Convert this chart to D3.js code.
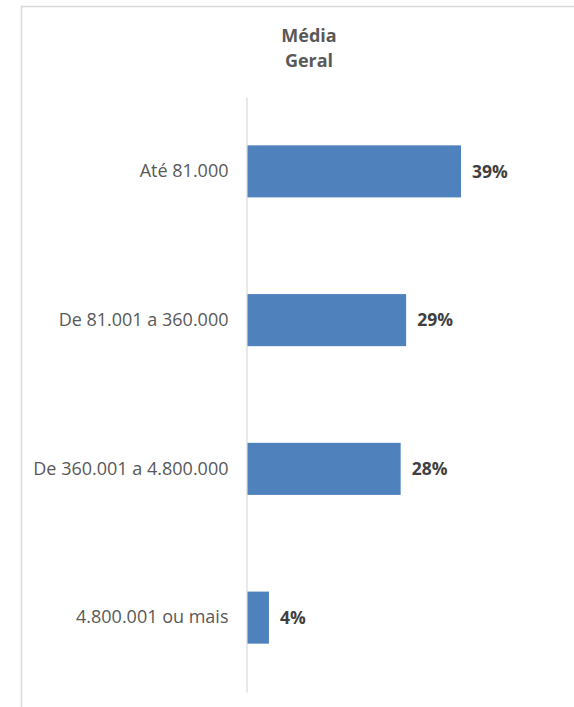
<!DOCTYPE html>
<html><head><meta charset="utf-8">
<script src="https://cdn.jsdelivr.net/npm/d3@7"></script>
<style>body{margin:0;background:#fff;}svg{display:block;}</style>
</head><body>
<script>
const categories = ["Até 81.000", "De 81.001 a 360.000", "De 360.001 a 4.800.000", "4.800.001 ou mais"];
const values = [39, 29, 28, 4];
const valueLabels = ["39%", "29%", "28%", "4%"];
const titleLines = ["Média", "Geral"];

const W = 574, H = 707;
const svg = d3.select("body").append("svg").attr("width", W).attr("height", H);
const font = "'Open Sans', 'Noto Sans', sans-serif";

// chart border
svg.append("path").attr("d", `M21.5,${H} V6.5 H${W}`).attr("fill","none").attr("stroke","#d9d9d9").attr("stroke-width",1.5);

const x0 = 247;
const x = d3.scaleLinear().domain([0, 39]).range([x0, 461]);
const y = d3.scaleBand().domain(categories).range([97, 692]).paddingInner(0.65).paddingOuter(0.325);

svg.append("g").selectAll("text").data(titleLines).join("text")
  .attr("x", 309).attr("y", (d,i)=>42 + i*25)
  .attr("text-anchor","middle").attr("font-family",font).attr("font-weight","bold")
  .attr("font-size",18).attr("fill","#595959").text(d=>d);

svg.selectAll("rect.bar").data(values).join("rect").attr("class","bar")
  .attr("x", x(0)).attr("y",(d,i)=>y(categories[i]))
  .attr("width", d=>x(d)-x(0)).attr("height", y.bandwidth())
  .attr("fill","#4f81bd");

// axis
const axis = d3.axisLeft(y).tickSize(0).tickPadding(18);
const g = svg.append("g").attr("transform",`translate(${x0-0.5},0)`).call(axis);
g.select(".domain").attr("stroke","#d9d9d9").attr("stroke-width",1.2);
g.selectAll(".tick text").attr("font-family",font).attr("font-size",18).attr("fill","#595959");

svg.selectAll("text.val").data(values).join("text").attr("class","val")
  .attr("x", d=>x(d)+11).attr("y",(d,i)=>y(categories[i])+y.bandwidth()/2)
  .attr("dy","0.35em").attr("font-family",font).attr("font-weight","bold")
  .attr("font-size",17.5).attr("fill","#404040").text((d,i)=>valueLabels[i]);
</script>
</body></html>
